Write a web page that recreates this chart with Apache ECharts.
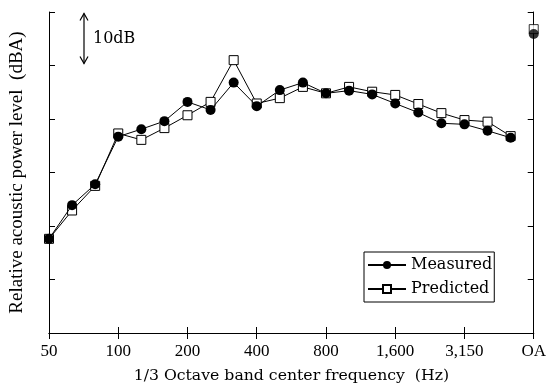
<!DOCTYPE html>
<html>
<head>
<meta charset="utf-8">
<script src="https://cdn.jsdelivr.net/npm/echarts@6/dist/echarts.min.js"></script>
<style>
  html, body { margin: 0; background: #fff; }
  #chart { width: 549px; height: 389px; }
</style>
</head>
<body>
<div id="chart"></div>
<script>
// 1/3 octave band centres (Hz), last one is the overall level
const bands = ['50', '63', '80', '100', '125', '160', '200', '250', '315', '400', '500', '630',
  '800', '1,000', '1,250', '1,600', '2,000', '2,500', '3,150', '4,000', '5,000', 'OA'];

// relative levels, dBA
const measured = [17.6, 23.9, 27.8, 36.7, 38.1, 39.6, 43.2, 41.7, 46.8, 42.4, 45.4, 46.8,
  44.8, 45.3, 44.6, 42.9, 41.2, 39.2, 39.0, 37.8, 36.5];
const predicted = [17.6, 22.9, 27.5, 37.3, 36.1, 38.3, 40.7, 43.2, 51.0, 42.9, 43.9, 46.0,
  44.8, 46.0, 45.1, 44.5, 42.8, 41.1, 39.8, 39.5, 36.8];
const oaMeasured = 55.9;
const oaPredicted = 56.8;

const serif = "'Liberation Serif', 'Times New Roman', serif";
const wide = "'DejaVu Serif', serif";

const chart = echarts.init(document.getElementById('chart'), null, { renderer: 'canvas' });

const xBase = {
  type: 'category',
  data: bands,
  boundaryGap: false,
  axisLine: { lineStyle: { color: '#000', width: 1 } },
  axisTick: { inside: true, length: 6, interval: 2, lineStyle: { color: '#000' } },
  splitLine: { show: false },
};
const yBase = {
  type: 'value',
  min: 0,
  max: 60,
  interval: 10,
  axisLine: { show: true, lineStyle: { color: '#000', width: 1 } },
  axisTick: { show: true, inside: true, length: 6, lineStyle: { color: '#000' } },
  axisLabel: { show: false },
  splitLine: { show: false },
};

const square = {
  symbol: 'rect',
  symbolSize: 9,
  itemStyle: { color: '#fff', borderColor: '#000', borderWidth: 1 },
};
const dot = {
  symbol: 'circle',
  symbolSize: 10,
  itemStyle: { color: '#000', borderColor: '#000', borderWidth: 0 },
};

chart.setOption({
  animation: false,
  backgroundColor: '#fff',
  grid: { left: 49, right: 14, top: 12, bottom: 56, containLabel: false },
  legend: {
    data: ['Measured', 'Predicted'],
    orient: 'vertical',
    left: 364,
    top: 252,
    padding: [3, 2, 3, 3],
    itemGap: 4,
    itemWidth: 38,
    itemHeight: 10,
    itemTextGap: 2,
    backgroundColor: '#fff',
    borderColor: '#000',
    borderWidth: 1,
    borderRadius: 0,
    textStyle: { fontFamily: wide, fontSize: 16, color: '#000', lineHeight: 20 },
  },
  xAxis: [
    {
      ...xBase,
      position: 'bottom',
      axisLabel: { interval: 2, margin: 10, color: '#000', fontFamily: serif, fontSize: 17 },
      name: '1/3 Octave band center frequency  (Hz)',
      nameLocation: 'middle',
      nameGap: 35,
      nameTextStyle: { fontFamily: wide, fontSize: 15.7, color: '#000' },
    },
    { ...xBase, position: 'top', axisLabel: { show: false } },
  ],
  yAxis: [
    {
      ...yBase,
      position: 'left',
      name: 'Relative acoustic power level  (dBA)',
      nameLocation: 'middle',
      nameGap: 22,
      nameTextStyle: { fontFamily: serif, fontSize: 19, color: '#000' },
    },
    { ...yBase, position: 'right' },
  ],
  series: [
    {
      name: 'Predicted',
      type: 'line',
      data: predicted,
      ...square,
      lineStyle: { color: '#000', width: 1 },
      z: 2,
    },
    {
      name: 'Measured',
      type: 'line',
      data: measured,
      ...dot,
      lineStyle: { color: '#000', width: 1 },
      z: 3,
    },
    { type: 'scatter', data: [['OA', oaPredicted]], ...square, z: 2 },
    { type: 'scatter', data: [['OA', oaMeasured]], ...dot, z: 3 },
  ],
});

// 10 dB scale arrow, placed from the y scale
const yTop = chart.convertToPixel({ yAxisIndex: 0 }, 60);
const yTen = chart.convertToPixel({ yAxisIndex: 0 }, 50);
const yMid = chart.convertToPixel({ yAxisIndex: 0 }, 55);
const ax = 84;
const y1 = yTop + 1.5;
const y2 = yTen - 2;
const arrowStyle = { stroke: '#000', lineWidth: 1.2, fill: null };
chart.setOption({
  graphic: [
    { type: 'line', shape: { x1: ax, y1: y1, x2: ax, y2: y2 }, style: arrowStyle },
    { type: 'polyline', shape: { points: [[ax - 4, y1 + 7], [ax, y1], [ax + 4, y1 + 7]] }, style: arrowStyle },
    { type: 'polyline', shape: { points: [[ax - 4, y2 - 7], [ax, y2], [ax + 4, y2 - 7]] }, style: arrowStyle },
    {
      type: 'text',
      x: 93,
      y: yMid,
      style: { text: '10dB', font: '16px "DejaVu Serif"', fill: '#000', verticalAlign: 'middle' },
    },
  ],
});
</script>
</body>
</html>
